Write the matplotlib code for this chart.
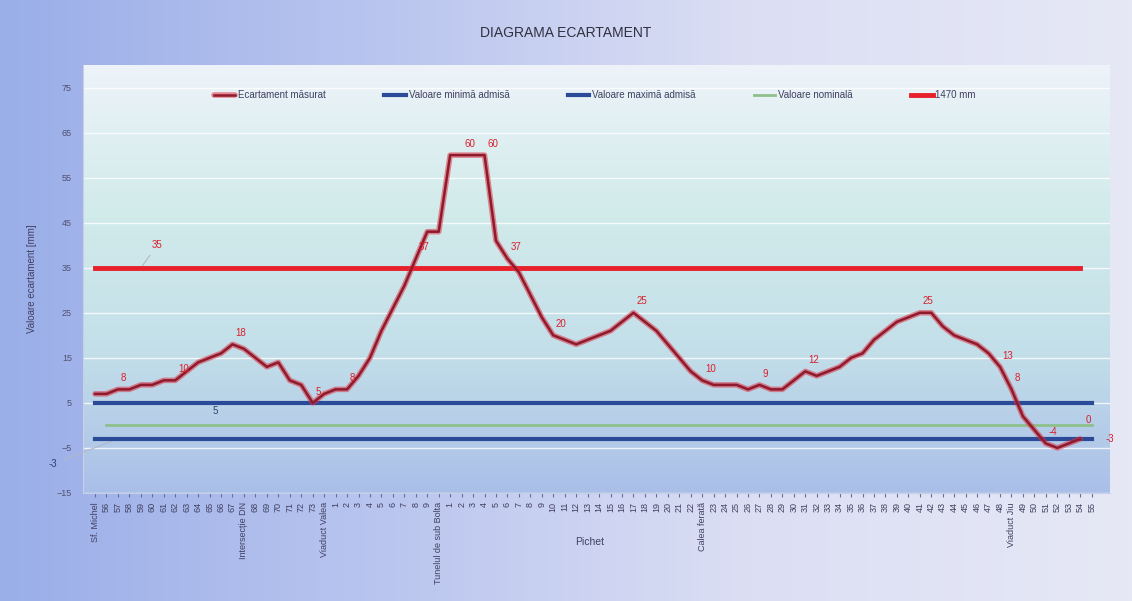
import numpy as np
import matplotlib.pyplot as plt
from matplotlib.colors import LinearSegmentedColormap

plt.rcParams['font.family'] = ['Liberation Sans Narrow', 'Liberation Sans', 'DejaVu Sans']

# date
ecartament = [7, 7, 8, 8, 9, 9, 10, 10, 12, 14, 15, 16, 18, 17, 15, 13, 14, 10, 9, 5,
              7, 8, 8, 11, 15, 21, 26, 31, 37, 43, 43, 60, 60, 60, 60, 41, 37, 34, 29, 24,
              20, 19, 18, 19, 20, 21, 23, 25, 23, 21, 18, 15, 12, 10, 9, 9, 9, 8, 9, 8,
              8, 10, 12, 11, 12, 13, 15, 16, 19, 21, 23, 24, 25, 25, 22, 20, 19, 18, 16, 13,
              8, 2, -1, -4, -5, -4, -3]
val_min = -3
val_max = 5
val_nominal = 0
val_1470 = 35

pichete = ['Sf. Michel', '56', '57', '58', '59', '60', '61', '62', '63', '64', '65', '66', '67',
           'Intersecție DN', '68', '69', '70', '71', '72', '73',
           'Viaduct Valea', '1', '2', '3', '4', '5', '6', '7', '8', '9',
           'Tunelul de sub Bolta', '1', '2', '3', '4', '5', '6', '7', '8', '9', '10', '11',
           '12', '13', '14', '15', '16', '17', '18', '19', '20', '21', '22',
           'Calea ferată', '23', '24', '25', '26', '27', '28', '29', '30', '31', '32', '33',
           '34', '35', '36', '37', '38', '39', '40', '41', '42', '43', '44', '45', '46',
           '47', '48', 'Viaduct Jiu', '49', '50', '51', '52', '53', '54', '55']

etichete_idx = [2, 7, 12, 19, 22, 28, 32, 34, 36, 40, 47, 53, 58, 62, 72, 79, 80, 83]

x = np.arange(len(pichete))
xe = np.arange(len(ecartament))

fig = plt.figure(figsize=(11.32, 6.01), dpi=100)

# fundal figura
bg = fig.add_axes([0, 0, 1, 1], zorder=-10)
bg.axis('off')
cm_bg = LinearSegmentedColormap.from_list('bg', ['#9aaee8', '#b9c5ef', '#dcdff4', '#e6e8f6'])
grad = np.linspace(0, 1, 256)[None, :]
bg.imshow(grad, aspect='auto', cmap=cm_bg, extent=[0, 1, 0, 1])

ax = fig.add_axes([83 / 1132, 1 - 493 / 601, (1110 - 83) / 1132, (493 - 65) / 601])
cm_pa = LinearSegmentedColormap.from_list('pa', ['#edf3f9', '#d2ebeb', '#c3dfe9', '#aabfe8'])
vgrad = np.linspace(0, 1, 256)[:, None]
ax.imshow(vgrad, aspect='auto', cmap=cm_pa, extent=[0, 1, 0, 1],
          transform=ax.transAxes, zorder=0)

ax.set_xlim(-1.05, 88.6)
ax.set_ylim(-15, 80)
ax.set_yticks(np.arange(-15, 80, 10))
ax.grid(axis='y', color='white', linewidth=1, alpha=0.8, zorder=1)

# serii
l1, = ax.plot(xe, ecartament, color='#e03040', linewidth=4, alpha=0.55, zorder=6,
              solid_capstyle='round')
l1c, = ax.plot(xe, ecartament, color='#8e1a2e', linewidth=1.8, zorder=7)
l2, = ax.plot(x[:88], [val_min] * 88, color='#2b4a98', linewidth=3, zorder=4)
l3, = ax.plot(x[:88], [val_max] * 88, color='#2b4a98', linewidth=3, zorder=4)
l4, = ax.plot(x[1:], [val_nominal] * (len(x) - 1), color='#8fc08c', linewidth=2, zorder=3)
l5, = ax.plot(xe, [val_1470] * len(xe), color='#e8202a', linewidth=3.5, zorder=5)

# etichete de date
for i in etichete_idx:
    ax.annotate(str(ecartament[i]), (xe[i], ecartament[i]), xytext=(2, 6),
                textcoords='offset points', fontsize=7, color='#d8202c', zorder=8)
ax.annotate(str(val_1470), (x[4], val_1470), xytext=(8, 14), textcoords='offset points',
            fontsize=7, color='#d8202c',
            arrowprops=dict(arrowstyle='-', color='#b0b8c8', lw=0.8))
ax.annotate(str(val_max), (x[10], val_max), xytext=(2, -8), textcoords='offset points',
            fontsize=7, color='#304070')
ax.annotate(str(val_min), (x[2], val_min), xytext=(-50, -20), textcoords='offset points',
            fontsize=7, color='#304070',
            arrowprops=dict(arrowstyle='-', color='#b0b8c8', lw=0.8))
ax.annotate(str(val_min), (x[87], val_min), xytext=(10, -2), textcoords='offset points',
            fontsize=7, color='#d8202c')
ax.annotate(str(val_nominal), (x[86], val_nominal), xytext=(4, 2), textcoords='offset points',
            fontsize=7, color='#d8202c')

ax.set_xticks(x)
ax.set_xticklabels(pichete, rotation=90, fontsize=6.5, color='#404060')
ax.tick_params(axis='y', labelsize=6.5, colors='#505070', length=0, pad=8)
ax.tick_params(axis='x', length=3, colors='#6070a0', labelcolor='#404060')
for s in ['top', 'right']:
    ax.spines[s].set_visible(False)
ax.spines['left'].set_color('#c8d0e8')
ax.spines['bottom'].set_color('#c8d0e8')

ax.set_ylabel('Valoare ecartament [mm]', fontsize=7, color='#404060', labelpad=14)
fig.text(590 / 1132, 1 - 545 / 601, 'Pichet', fontsize=7.5, color='#404060', ha='center')
fig.text(0.5, 1 - 33 / 601, 'DIAGRAMA ECARTAMENT', fontsize=10, color='#303040',
         ha='center', va='center')

fig.legend([(l1, l1c), l2, l3, l4, l5],
           ['Ecartament măsurat', 'Valoare minimă admisă', 'Valoare maximă admisă',
            'Valoare nominală', '1470 mm'],
           loc='center', bbox_to_anchor=(595 / 1132, 1 - 95 / 601), ncol=5,
           frameon=False, fontsize=7, handlelength=2.2, columnspacing=6, handletextpad=0.3,
           labelcolor='#404060')

fig.savefig('out.png', dpi=100)
